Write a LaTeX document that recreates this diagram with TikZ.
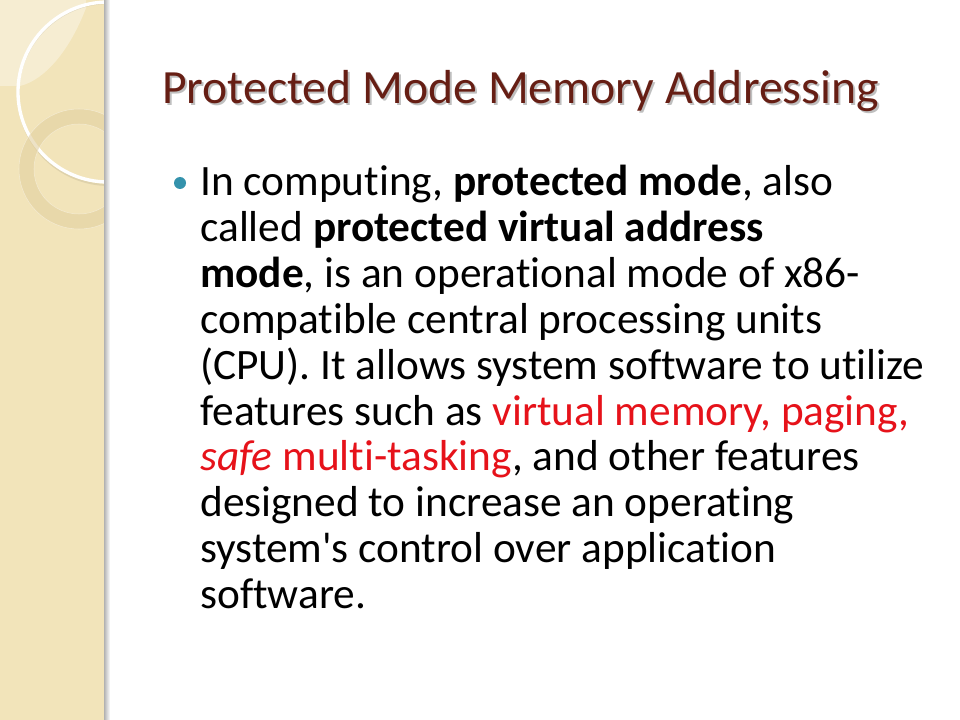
\documentclass[tikz,border=0pt]{standalone}
\usepackage{fontspec}
\setmainfont{Carlito}[Ligatures={NoCommon,TeXOff}]
\usetikzlibrary{positioning}

\definecolor{stripfill}{RGB}{242,228,186}
\definecolor{ringfill}{RGB}{226,208,160}
\definecolor{titlebrown}{RGB}{102,30,20}
\definecolor{bullteal}{RGB}{52,146,172}
\definecolor{hired}{RGB}{230,18,26}

\begin{document}
\begin{tikzpicture}[x=0.75pt,y=-0.75pt,
    titletext/.style={anchor=base west,inner sep=0pt,text=titlebrown,
      font=\fontsize{35.8}{40}\selectfont},
    bodyline/.style={anchor=base west,inner sep=0pt,text=black,
      font=\fontsize{32.5}{37}\selectfont}]
    \useasboundingbox (0,0) rectangle (960,720);
    \fill[white] (0,0) rectangle (960,720);

    % left strip
    \fill[stripfill] (0,0) rectangle (105,720);
    \begin{scope}
        \clip (0,0) rectangle (105,720);
        \fill[white,opacity=0.35] (0,0) -- (86,0) -- (86,8)
            .. controls (70,50) and (45,80) .. (20,86) -- (0,86) -- cycle;
        \draw[black,opacity=0.08,line width=1.5] (109,94) circle (91);
        \draw[white,line width=2.5] (108,92) circle (90);
        \fill[ringfill,opacity=0.6,even odd rule] (79,169) circle (60) (79,169) circle (45);
        \draw[white,opacity=0.4] (79,169) circle (60) (79,169) circle (45);
    \end{scope}
    \shade[left color=black!30,right color=white] (104,0) rectangle (110,720);

    % title
    \node[titletext,text=black!25] (tshadow) at (164,106) {Protected Mode Memory Addressing};
    \node[titletext] (title) at (162,104) {Protected Mode Memory Addressing};

    % bullet
    \fill[bullteal] (180,183) circle (6);

    % text
    \node[bodyline] (l1) at (200,196) {In computing, \textbf{protected mode}, also};
    \node[bodyline] (l2) at (200,241.8) {called \textbf{protected virtual address}};
    \node[bodyline] (l3) at (200,287.6) {\textbf{mode}, is an operational mode of x86-};
    \node[bodyline] (l4) at (200,333.4) {compatible central processing units};
    \node[bodyline] (l5) at (200,379.2) {(CPU). It allows system software to utilize};
    \node[bodyline] (l6) at (200,425) {features such as \textcolor{hired}{virtual memory, paging,}};
    \node[bodyline] (l7) at (200,470.8) {\textcolor{hired}{\textit{safe} multi-tasking}, and other features};
    \node[bodyline] (l8) at (200,516.6) {designed to increase an operating};
    \node[bodyline] (l9) at (200,562.4) {system's control over application};
    \node[bodyline] (l10) at (200,608.2) {software.};
\end{tikzpicture}
\end{document}
